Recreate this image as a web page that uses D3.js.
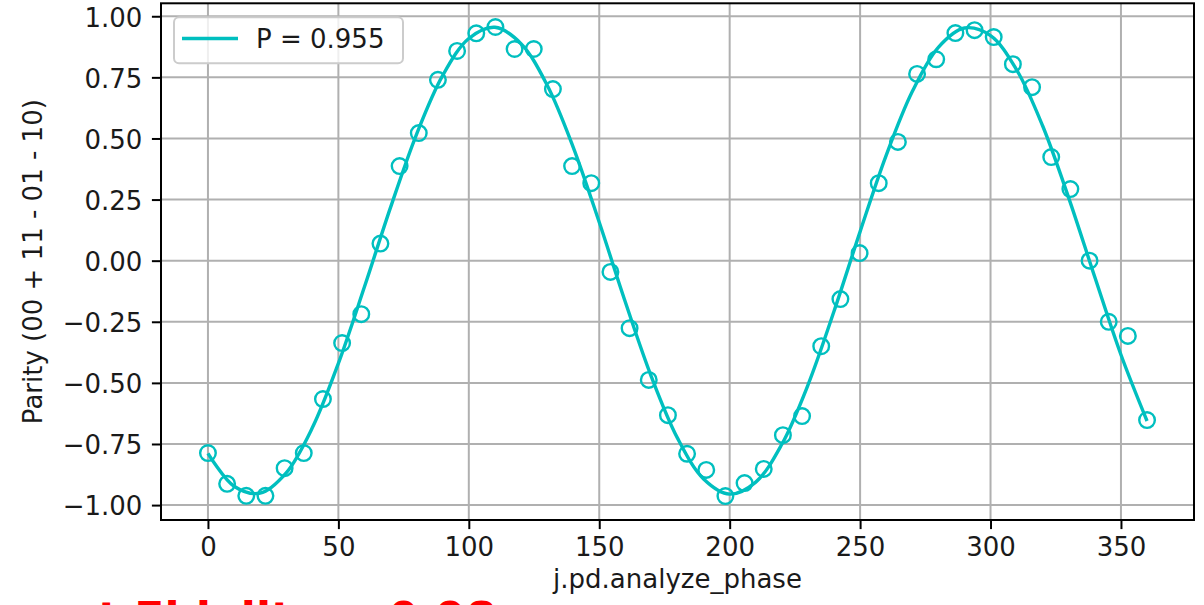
<!DOCTYPE html>
<html><head><meta charset="utf-8">
<script src="https://cdn.jsdelivr.net/npm/d3@7/dist/d3.min.js"></script>
<style>body{margin:0;background:#fff}svg{display:block}</style>
</head><body><svg id="c" width="1204" height="605"></svg>
<script>
// ---- data ----
const phase = [0, 7.35, 14.69, 22.04, 29.39, 36.73, 44.08, 51.43, 58.78, 66.12,
  73.47, 80.82, 88.16, 95.51, 102.86, 110.20, 117.55, 124.90, 132.24, 139.59,
  146.94, 154.29, 161.63, 168.98, 176.33, 183.67, 191.02, 198.37, 205.71, 213.06,
  220.41, 227.76, 235.10, 242.45, 249.80, 257.14, 264.49, 271.84, 279.18, 286.53,
  293.88, 301.22, 308.57, 315.92, 323.27, 330.61, 337.96, 345.31, 352.65, 360];
const parity = [-0.787, -0.913, -0.962, -0.962, -0.849, -0.787, -0.566, -0.337, -0.219, 0.070,
  0.387, 0.522, 0.740, 0.858, 0.930, 0.956, 0.866, 0.866, 0.702, 0.387,
  0.317, -0.046, -0.276, -0.488, -0.632, -0.790, -0.856, -0.963, -0.910, -0.852,
  -0.714, -0.636, -0.350, -0.157, 0.031, 0.317, 0.486, 0.764, 0.824, 0.931,
  0.943, 0.915, 0.804, 0.710, 0.424, 0.293, 0.000, -0.250, -0.308, -0.652];
const fitPhase = [0, 10, 20, 30, 40, 50, 60, 70, 80, 90, 100, 110, 120, 130, 140, 150, 160, 170, 180,
  190, 200, 210, 220, 230, 240, 250, 260, 270, 280, 290, 300, 310, 320, 330, 340, 350, 360];
const fitParity = [-0.788, -0.923, -0.951, -0.868, -0.684, -0.420, -0.107, 0.218, 0.518, 0.758,
  0.909, 0.955, 0.888, 0.719, 0.465, 0.157, -0.169, -0.475, -0.726, -0.893, -0.955,
  -0.906, -0.751, -0.509, -0.207, 0.119, 0.431, 0.692, 0.873, 0.952, 0.921, 0.781,
  0.551, 0.256, -0.068, -0.385, -0.656];
const xTicks = [0, 50, 100, 150, 200, 250, 300, 350];
const yTicks = [-1.00, -0.75, -0.50, -0.25, 0.00, 0.25, 0.50, 0.75, 1.00];
const legendLabel = "P = 0.955";
const xLabel = "j.pd.analyze_phase";
const yLabel = "Parity (00 + 11 - 01 - 10)";
const noteText = "t Fidelity = 0.98";

// ---- layout ----
const L = 161, R = 1194, T = 3.3, B = 520;
const color = "#00bfbf";
const font = "'DejaVu Sans', sans-serif";
const ink = "#1a1a1a";
const svg = d3.select("#c");

const x = d3.scaleLinear().domain([-18, 378]).range([L, R]);
const y = d3.scaleLinear().domain([-1.061, 1.053]).range([B, T]);

// grid
const g = svg.append("g");
g.selectAll("line.gx").data(xTicks).join("line")
  .attr("x1", d => x(d)).attr("x2", d => x(d)).attr("y1", T).attr("y2", B)
  .attr("stroke", "#b0b0b0").attr("stroke-width", 2);
g.selectAll("line.gy").data(yTicks).join("line")
  .attr("y1", d => y(d)).attr("y2", d => y(d)).attr("x1", L).attr("x2", R)
  .attr("stroke", "#b0b0b0").attr("stroke-width", 2);

// fit line
svg.append("clipPath").attr("id", "clp").append("rect")
  .attr("x", L).attr("y", T).attr("width", R - L).attr("height", B - T);
const fitData = fitPhase.map((p, i) => [p, fitParity[i]]);
svg.append("path").datum(fitData)
  .attr("d", d3.line().x(d => x(d[0])).y(d => y(d[1])).curve(d3.curveCatmullRom.alpha(0.5)))
  .attr("fill", "none").attr("stroke", color).attr("stroke-width", 3.4)
  .attr("clip-path", "url(#clp)");

// markers
svg.append("g").selectAll("circle").data(phase.map((p, i) => [p, parity[i]])).join("circle")
  .attr("cx", d => x(d[0])).attr("cy", d => y(d[1])).attr("r", 7.8)
  .attr("fill", "none").attr("stroke", color).attr("stroke-width", 2.4);

// axes
const xa = svg.append("g").attr("transform", `translate(0,${B})`)
  .call(d3.axisBottom(x).tickValues(xTicks).tickFormat(d3.format("d")).tickSize(9.1).tickPadding(8));
const ya = svg.append("g").attr("transform", `translate(${L},0)`)
  .call(d3.axisLeft(y).tickValues(yTicks).tickFormat(d => d3.format(".2f")(d).replace("-", "\u2212")).tickSize(9.1).tickPadding(9.5));
[xa, ya].forEach(a => {
  a.select(".domain").remove();
  a.selectAll(".tick line").attr("stroke", "#000").attr("stroke-width", 2);
  a.selectAll(".tick text").attr("font-family", font).attr("font-size", 26).attr("fill", ink);
});
ya.selectAll(".tick text").attr("dy", "0.38em");

// spines
svg.append("rect").attr("x", L).attr("y", T).attr("width", R - L).attr("height", B - T)
  .attr("fill", "none").attr("stroke", "#000").attr("stroke-width", 2);

// labels
svg.append("text").attr("x", (L + R) / 2).attr("y", 588).attr("text-anchor", "middle")
  .attr("font-family", font).attr("font-size", 26).attr("fill", ink).text(xLabel);
svg.append("text").attr("transform", `translate(41.5,${(T + B) / 2}) rotate(-90)`)
  .attr("text-anchor", "middle").attr("font-family", font).attr("font-size", 26)
  .attr("fill", ink).text(yLabel);

// legend
const lg = svg.append("g");
lg.append("rect").attr("x", 174).attr("y", 17.3).attr("width", 229).attr("height", 46)
  .attr("rx", 5).attr("fill", "#fff").attr("fill-opacity", 0.8)
  .attr("stroke", "#cccccc").attr("stroke-width", 2);
lg.append("line").attr("x1", 182).attr("x2", 238).attr("y1", 38.5).attr("y2", 38.5)
  .attr("stroke", color).attr("stroke-width", 3.4);
lg.append("text").attr("x", 256).attr("y", 48).attr("font-family", font).attr("font-size", 26)
  .attr("fill", ink).text(legendLabel);

// red note (mostly below the visible area, as in the reference)
svg.append("text").attr("x", 98).attr("y", 633.5).attr("font-family", font)
  .attr("font-weight", "bold").attr("font-size", 44).attr("fill", "red").text(noteText);
</script>
</body></html>
